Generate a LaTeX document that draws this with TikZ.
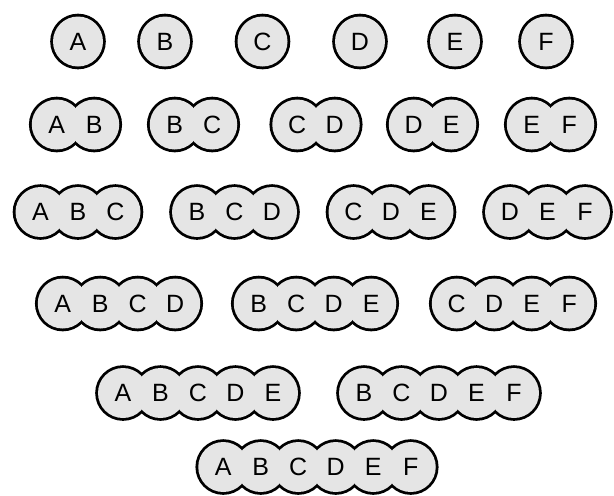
\documentclass[tikz,border=0pt]{standalone}
\usepackage{fontspec}
\setmainfont{Liberation Sans}
\definecolor{setgray}{gray}{0.9}

\begin{document}
\begin{tikzpicture}[x=0.5pt, y=-0.5pt, every node/.style={font=\fontsize{12.5}{14}\selectfont}]
	\useasboundingbox (0,0) rectangle (614,495);
	\foreach \n/\y/\xs in {1/41.5/{78,165,262.5,360,455,546}, 2/124.5/{75.5,193.5,316,432.5,550.5}, 3/212/{78,234.5,391,547.5}, 4/303.5/{119,315,513}, 5/393/{198,439}, 6/467/{317}} {
		\foreach \cx [count=\g from 0] in \xs {
			\foreach \m in {1,...,\n}
				\draw[line width=2.8pt] (\cx+\m*37.5-\n*18.75-18.75,\y) circle (25);
			\foreach \m in {1,...,\n} {
				\pgfmathtruncatemacro\k{64+\g+\m}
				\fill[setgray] (\cx+\m*37.5-\n*18.75-18.75,\y) circle (25);
				\node (s\n-\g-\m) at (\cx+\m*37.5-\n*18.75-18.75,\y) {\char\k};
			}
		}
	}
\end{tikzpicture}
\end{document}
